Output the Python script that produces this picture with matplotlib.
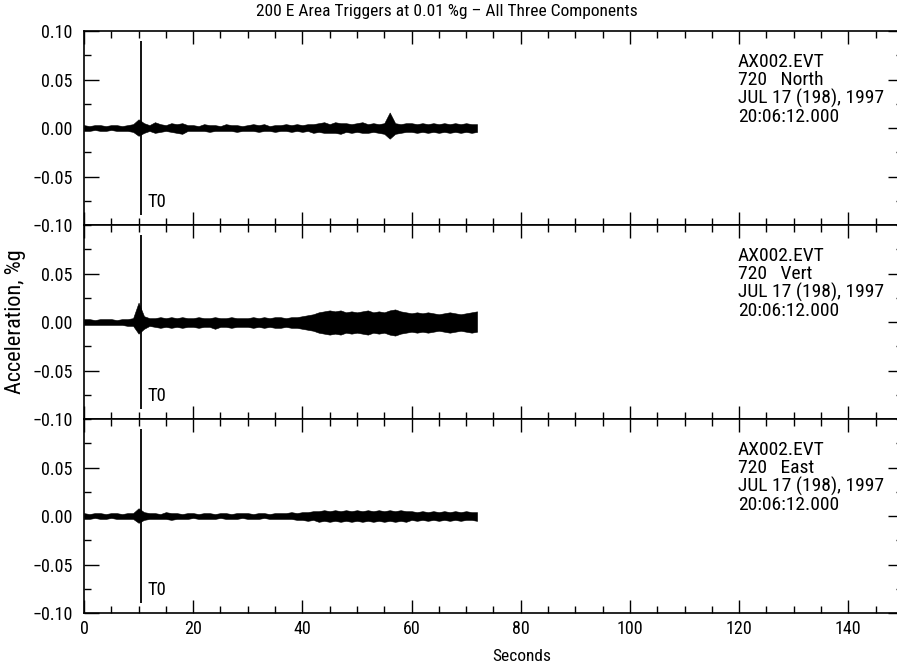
import numpy as np
import matplotlib
matplotlib.use("Agg")
from matplotlib import pyplot as plt
from matplotlib import font_manager
from matplotlib.ticker import MultipleLocator, FuncFormatter

# pick a narrow sans face if one is there, the original uses a condensed plotter font
fonts = font_manager.fontManager.ttflist
names = {f.name for f in fonts}
scale = 1.0
if 'Liberation Sans Narrow' in names:
    plt.rcParams['font.family'] = ['Liberation Sans Narrow', 'DejaVu Sans']
elif 'Roboto Condensed' in names:
    plt.rcParams['font.family'] = ['Roboto Condensed', 'DejaVu Sans']
else:
    cond = [f for f in fonts if str(f.stretch) in ('condensed', 'semi-condensed', '75', '87')]
    if cond:
        pick = sorted(cond, key=lambda f: f.name != 'DejaVu Sans')[0]
        plt.rcParams['font.family'] = [pick.name, 'DejaVu Sans']
        plt.rcParams['font.stretch'] = 'condensed'
    else:
        plt.rcParams['font.family'] = ['DejaVu Sans']
        scale = 0.82

# trace envelopes, one value per second (0 .. 72 s), in thousandths of %g
seconds = list(range(73))
north_up = [3, 2, 3, 3, 2, 3, 3, 2, 3, 4,
            9, 5, 3, 6, 4, 3, 5, 4, 5, 3,
            3, 2, 4, 3, 3, 2, 4, 3, 3, 2,
            3, 4, 3, 4, 2, 3, 3, 4, 3, 4,
            3, 4, 4, 5, 6, 4, 6, 5, 5, 4,
            5, 6, 4, 5, 4, 5, 16, 5, 4, 5,
            5, 4, 5, 4, 5, 4, 5, 4, 5, 4,
            5, 4, 4]
north_lo = [3, 3, 2, 3, 3, 2, 3, 3, 3, 4,
            8, 5, 3, 5, 4, 3, 4, 5, 6, 3,
            3, 3, 3, 4, 3, 3, 3, 3, 4, 3,
            3, 3, 4, 3, 3, 4, 3, 3, 4, 3,
            4, 3, 5, 4, 5, 5, 5, 6, 4, 5,
            4, 5, 5, 4, 5, 6, 11, 6, 5, 4,
            4, 5, 4, 5, 4, 5, 4, 5, 4, 5,
            4, 5, 4]
vert_up = [3, 3, 2, 3, 3, 3, 2, 3, 3, 4,
           20, 6, 4, 4, 5, 4, 5, 4, 5, 4,
           4, 5, 4, 4, 5, 4, 4, 5, 4, 4,
           4, 5, 4, 5, 4, 5, 5, 4, 5, 5,
           6, 7, 8, 10, 11, 12, 11, 12, 10, 11,
           10, 11, 12, 10, 11, 10, 12, 13, 11, 10,
           9, 10, 9, 10, 9, 8, 9, 10, 9, 8,
           9, 10, 11]
vert_lo = [3, 3, 3, 3, 3, 3, 3, 3, 4, 4,
           12, 7, 4, 5, 6, 5, 6, 5, 6, 5,
           5, 6, 5, 5, 7, 5, 5, 6, 5, 5,
           5, 6, 5, 6, 5, 6, 6, 5, 6, 6,
           7, 8, 9, 11, 12, 13, 12, 13, 11, 12,
           11, 12, 13, 11, 12, 11, 13, 14, 12, 11,
           10, 11, 10, 11, 10, 9, 10, 11, 10, 9,
           10, 11, 10]
east_up = [3, 2, 3, 3, 2, 3, 3, 2, 3, 3,
           8, 4, 3, 3, 2, 4, 3, 3, 2, 3,
           3, 2, 3, 3, 2, 3, 3, 2, 3, 3,
           3, 2, 3, 3, 2, 3, 3, 3, 4, 3,
           4, 4, 5, 5, 6, 5, 6, 5, 6, 5,
           6, 5, 6, 5, 6, 5, 6, 5, 6, 5,
           5, 4, 5, 4, 5, 4, 5, 4, 5, 4,
           5, 4, 4]
east_lo = [3, 3, 2, 3, 3, 2, 3, 3, 3, 3,
           7, 4, 3, 3, 3, 3, 4, 3, 3, 3,
           2, 3, 3, 3, 3, 2, 3, 3, 3, 2,
           3, 3, 3, 2, 3, 3, 3, 3, 3, 4,
           4, 5, 4, 6, 5, 6, 5, 6, 5, 6,
           5, 6, 5, 6, 5, 6, 5, 6, 5, 6,
           4, 5, 4, 5, 4, 5, 4, 5, 4, 5,
           4, 4, 5]

components = ['North', 'Vert', 'East']
t0 = 10.4
t0_span = [-0.09, 0.09]
label_lines = ['AX002.EVT', '720   {}', 'JUL 17 (198), 1997', '20:06:12.000']

fig = plt.figure(figsize=(8.97, 6.63), dpi=100)
left, width = 0.0936, 0.913
bottom, height = 0.0754, 0.2926

fs_tick = 13 * scale
fs_text = 12.5 * scale
fs_note = 14 * scale

traces = [(north_up, north_lo), (vert_up, vert_lo), (east_up, east_lo)]
axes = []
for i, (up, lo) in enumerate(traces):
    ax = fig.add_axes([left, bottom + (2 - i) * height, width, height])
    axes.append(ax)
    t = np.array(seconds)
    ax.fill_between(t, np.array(up) * 0.001, -np.array(lo) * 0.001,
                    color='black', linewidth=0.4, edgecolor='black')
    ax.vlines(t0, t0_span[0], t0_span[1], color='black', linewidth=1.3)
    ax.text(t0 + 1.2, -0.076, 'T0', fontsize=13.5 * scale, va='center', ha='left')
    # header block, one line at a time so the spacing stays even
    for k, line in enumerate(label_lines):
        ax.text(119.8, 0.0633 - k * 0.019, line.format(components[i]),
                fontsize=fs_note, va='baseline', ha='left')

    ax.set_xlim(0, 150)
    ax.set_ylim(-0.10, 0.10)
    ax.xaxis.set_major_locator(MultipleLocator(20))
    ax.xaxis.set_minor_locator(MultipleLocator(5))
    ax.yaxis.set_major_locator(MultipleLocator(0.05))
    ax.yaxis.set_minor_locator(MultipleLocator(0.025))
    ax.tick_params(axis='both', which='both', direction='in', top=True, right=True,
                   labelsize=fs_tick, width=1.0)
    ax.tick_params(axis='y', which='major', length=11, pad=8)
    ax.tick_params(axis='y', which='minor', length=5)
    ax.tick_params(axis='x', which='major', length=9.5, pad=5)
    ax.tick_params(axis='x', which='minor', length=5)
    ax.yaxis.set_major_formatter(FuncFormatter(
        lambda v, p: ('%.2f' % v).replace('-', '\u2212') if abs(v) > 1e-9 else '0.00'))
    for s in ax.spines.values():
        s.set_linewidth(1.2)
    if i > 0:
        ax.set_yticks([-0.10, -0.05, 0.0, 0.05])
    if i < 2:
        ax.tick_params(axis='x', labelbottom=False)

axes[2].set_xlabel('Seconds', fontsize=fs_text, x=0.535, labelpad=8)
axes[1].set_ylabel('Acceleration, %g', fontsize=16 * scale, labelpad=5)
fig.text(0.498, 0.982, '200 E Area Triggers at 0.01 %g \u2013 All Three Components',
         fontsize=fs_text, ha='center', va='center')

fig.savefig('out.png', dpi=100)
